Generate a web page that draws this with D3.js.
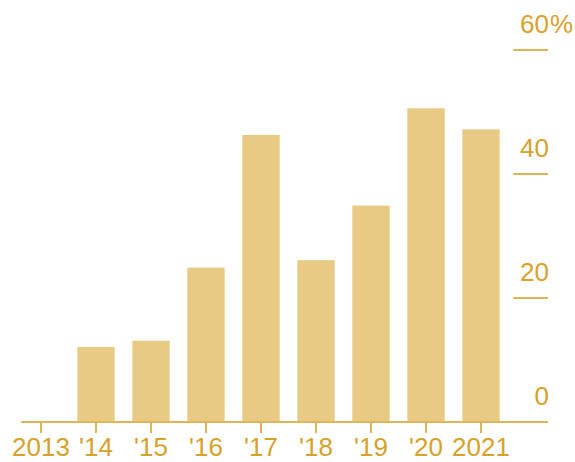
<!DOCTYPE html>
<html>
<head>
<meta charset="utf-8">
<script src="https://cdn.jsdelivr.net/npm/d3@7"></script>
<style>
  body { margin: 0; background: #fff; }
  text { font-family: "Liberation Sans", Arial, sans-serif; }
</style>
</head>
<body>
<svg width="575" height="462"></svg>
<script>
let width = 575, height = 462;

// data
const years = ["2013", "'14", "'15", "'16", "'17", "'18", "'19", "'20", "2021"];
const values = [0, 12.1, 13.1, 24.9, 46.3, 26.1, 34.9, 50.6, 47.2];
const yTicks = [0, 20, 40, 60];

const barColor = "#e8ca84", axisColor = "#e0b555", textColor = "#d8a12a";

let svg = d3.select("svg");

let x = d3.scaleBand()
    .domain(years)
    .range([13.5, 508.5])
    .paddingInner(0.32)
    .paddingOuter(0.16);

let y = d3.scaleLinear()
    .domain([0, 60])
    .range([422, 50]);

// bars
svg.append("g")
    .selectAll("rect")
    .data(values)
    .enter()
    .append("rect")
    .attr("x", (d, i) => x(years[i]))
    .attr("width", x.bandwidth())
    .attr("y", d => y(d))
    .attr("height", d => y(0) - y(d))
    .attr("fill", barColor);

// right value axis: short dashes with labels above them
let yg = svg.append("g").attr("id", "y-axis");
yg.selectAll("line")
    .data(yTicks.filter(d => d > 0))
    .enter()
    .append("line")
    .attr("x1", 513).attr("x2", 548)
    .attr("y1", d => y(d)).attr("y2", d => y(d))
    .attr("stroke", axisColor)
    .attr("stroke-width", 2);

yg.selectAll("text")
    .data(yTicks)
    .enter()
    .append("text")
    .attr("x", 549)
    .attr("y", d => y(d) - 17)
    .attr("text-anchor", "end")
    .attr("font-size", 26)
    .attr("fill", textColor)
    .text(d => d);

// percent sign hangs to the right of the top label
yg.append("text")
    .attr("x", 550)
    .attr("y", y(60) - 17)
    .attr("font-size", 26)
    .attr("fill", textColor)
    .text("%");

// baseline with ticks under each bar
let xg = svg.append("g").attr("id", "x-axis");
xg.append("line")
    .attr("x1", 21).attr("x2", 548)
    .attr("y1", y(0)).attr("y2", y(0))
    .attr("stroke", axisColor)
    .attr("stroke-width", 2.2);

xg.selectAll("line.tick")
    .data(years)
    .enter()
    .append("line")
    .attr("class", "tick")
    .attr("x1", d => x(d) + x.bandwidth() / 2)
    .attr("x2", d => x(d) + x.bandwidth() / 2)
    .attr("y1", y(0)).attr("y2", y(0) + 11)
    .attr("stroke", axisColor)
    .attr("stroke-width", 2);

xg.selectAll("text")
    .data(years)
    .enter()
    .append("text")
    .attr("x", d => x(d) + x.bandwidth() / 2)
    .attr("y", 456)
    .attr("text-anchor", "middle")
    .attr("font-size", 26)
    .attr("fill", textColor)
    .text(d => d);
</script>
</body>
</html>
